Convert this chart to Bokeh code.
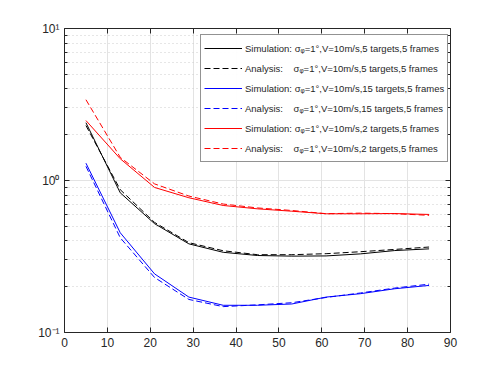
from bokeh.plotting import figure
from bokeh.models import LogAxis, LinearAxis, FixedTicker, Range1d
from bokeh.embed import file_html
from bokeh.resources import INLINE

x = [5, 13, 21, 29, 37, 45, 53, 61, 69, 77, 85]
sim_5 = [2.40, 0.83, 0.52, 0.383, 0.337, 0.321, 0.318, 0.319, 0.329, 0.346, 0.355]
ana_5 = [2.30, 0.87, 0.53, 0.39, 0.345, 0.325, 0.325, 0.33, 0.34, 0.352, 0.365]
sim_15 = [1.30, 0.453, 0.243, 0.171, 0.151, 0.151, 0.154, 0.171, 0.180, 0.194, 0.204]
ana_15 = [1.24, 0.42, 0.23, 0.165, 0.148, 0.152, 0.157, 0.170, 0.182, 0.196, 0.208]
sim_2 = [2.48, 1.39, 0.90, 0.77, 0.685, 0.651, 0.628, 0.604, 0.604, 0.606, 0.598]
ana_2 = [3.40, 1.42, 0.95, 0.79, 0.70, 0.66, 0.635, 0.605, 0.61, 0.605, 0.59]

labels = [
    "Simulation: \u03c3\u1d69=1\u00b0,V=10m/s,5 targets,5 frames",
    "Analysis:    \u03c3\u1d69=1\u00b0,V=10m/s,5 targets,5 frames",
    "Simulation: \u03c3\u1d69=1\u00b0,V=10m/s,15 targets,5 frames",
    "Analysis:    \u03c3\u1d69=1\u00b0,V=10m/s,15 targets,5 frames",
    "Simulation: \u03c3\u1d69=1\u00b0,V=10m/s,2 targets,5 frames",
    "Analysis:    \u03c3\u1d69=1\u00b0,V=10m/s,2 targets,5 frames",
]
x_ticks = [0, 10, 20, 30, 40, 50, 60, 70, 80, 90]
y_ticks = [0.1, 1, 10]
y_minor = [m * d for d in (0.1, 1) for m in range(2, 10)]
y_tick_labels = ["10\u207b\u00b9", "10\u2070", "10\u00b9"]

FONT = "Liberation Sans"
AX = "#262626"

p = figure(frame_width=386, frame_height=304, x_axis_type="linear", y_axis_type="log",
           x_range=Range1d(0, 90), y_range=Range1d(0.1, 10),
           output_backend="svg", toolbar_location=None,
           min_border_left=64, min_border_right=40, min_border_top=28, min_border_bottom=34)
p.outline_line_color = None
p.background_fill_color = "white"

series = [
    (sim_5, "black", "solid"),
    (ana_5, "black", "6 3"),
    (sim_15, "blue", "solid"),
    (ana_15, "blue", "6 3"),
    (sim_2, "red", "solid"),
    (ana_2, "red", "6 3"),
]
for (ys, c, d), lab in zip(series, labels):
    p.line(x, ys, line_color=c, line_dash=d, line_width=1, line_alpha=1.0, legend_label=lab)

# grids
p.xgrid.ticker = FixedTicker(ticks=x_ticks)
p.xgrid.grid_line_color = "#e3e3e3"
p.ygrid.ticker = FixedTicker(ticks=y_ticks, minor_ticks=y_minor)
p.ygrid.grid_line_color = "#e3e3e3"
p.ygrid.minor_grid_line_color = "#cccccc"
p.ygrid.minor_grid_line_dash = "1 3"

def style(ax):
    ax.axis_line_color = AX
    ax.major_tick_line_color = AX
    ax.minor_tick_line_color = AX
    ax.major_tick_in = 5
    ax.major_tick_out = 0
    ax.minor_tick_in = 3
    ax.minor_tick_out = 0
    ax.major_label_text_font = FONT
    ax.major_label_text_font_size = "12px"
    ax.major_label_text_color = AX
    ax.major_label_standoff = 5

xb = p.xaxis[0]
xb.ticker = FixedTicker(ticks=x_ticks)
style(xb)
yl = p.yaxis[0]
yl.ticker = FixedTicker(ticks=y_ticks, minor_ticks=y_minor)
yl.major_label_overrides = {0.1: y_tick_labels[0], 1: y_tick_labels[1], 10: y_tick_labels[2]}
style(yl)

xt = LinearAxis(ticker=FixedTicker(ticks=x_ticks))
style(xt)
xt.major_label_text_alpha = 0
xt.major_label_text_font_size = "1px"
xt.major_label_standoff = 0
p.add_layout(xt, "above")
yr = LogAxis(ticker=FixedTicker(ticks=y_ticks, minor_ticks=y_minor))
style(yr)
yr.major_label_text_alpha = 0
yr.major_label_text_font_size = "1px"
yr.major_label_standoff = 0
p.add_layout(yr, "right")

leg = p.legend[0]
leg.location = (136, 170)
leg.label_text_font = FONT
leg.label_text_font_size = "9.5px"
leg.label_text_color = "#262626"
leg.glyph_width = 38
leg.glyph_height = 20
leg.label_height = 20
leg.spacing = 0
leg.padding = 3
leg.margin = 0
leg.label_standoff = 3
leg.border_line_color = "#262626"
leg.border_line_width = 1
leg.background_fill_color = "white"

open("out.html", "w").write(file_html(p, INLINE))
